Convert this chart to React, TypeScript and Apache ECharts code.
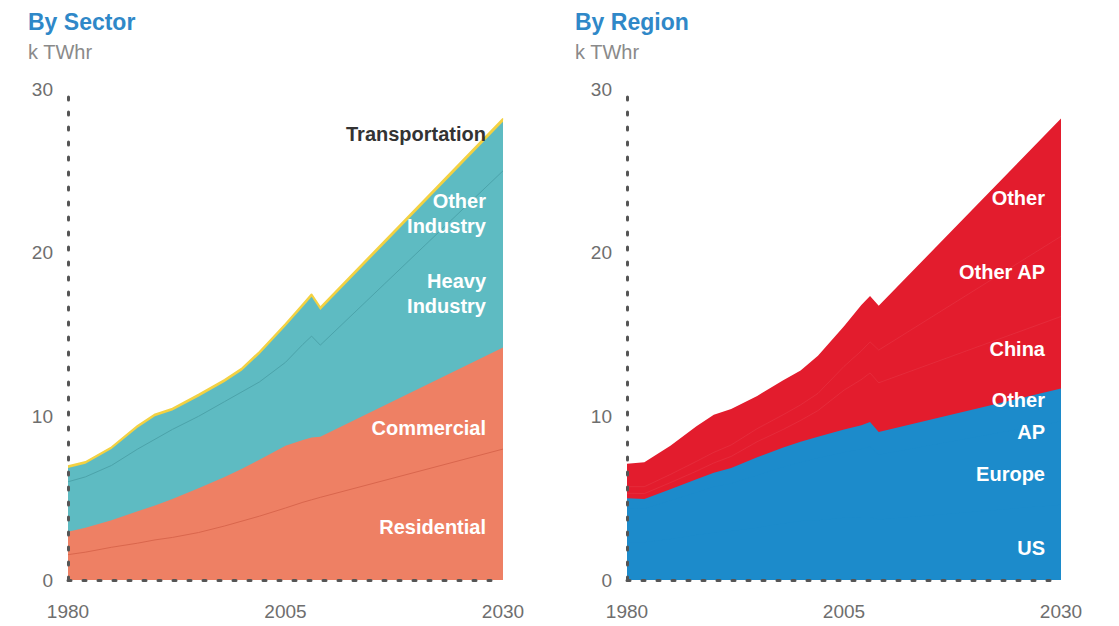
import React, { useEffect, useRef } from "react";
import * as echarts from "echarts";

// Years (after 2009 the projection is a straight line)
const years = [1980, 1982, 1985, 1988, 1990, 1992, 1995, 1998, 2000, 2002, 2005, 2007, 2008, 2009, 2030];

// By Sector (k TWhr), layer thicknesses
const residential = [1.55, 1.7, 2.0, 2.25, 2.45, 2.6, 2.9, 3.3, 3.6, 3.9, 4.4, 4.75, 4.9, 5.05, 8.0];
const commercial = [1.4, 1.5, 1.65, 1.95, 2.1, 2.35, 2.7, 3.0, 3.2, 3.45, 3.8, 3.8, 3.8, 3.7, 6.2];
const heavyIndustry = [3.05, 3.1, 3.35, 3.8, 4.05, 4.25, 4.4, 4.6, 4.7, 4.75, 5.1, 5.85, 6.2, 5.6, 10.8];
const otherIndustry = [0.85, 0.8, 1.0, 1.3, 1.4, 1.15, 1.2, 1.2, 1.3, 1.7, 2.2, 2.3, 2.4, 2.15, 3.0];
const transportation = [0.12, 0.12, 0.12, 0.13, 0.13, 0.13, 0.14, 0.14, 0.15, 0.15, 0.16, 0.17, 0.17, 0.17, 0.2];

// By Region (k TWhr), layer thicknesses
const us = [2.3, 2.3, 2.5, 2.75, 2.9, 3.0, 3.2, 3.45, 3.6, 3.65, 3.8, 3.85, 3.85, 3.7, 4.6];
const europe = [2.1, 2.05, 2.35, 2.6, 2.8, 2.9, 3.2, 3.45, 3.6, 3.8, 4.0, 4.15, 4.3, 3.95, 5.1];
const otherApOecd = [0.6, 0.6, 0.7, 0.8, 0.85, 0.95, 1.1, 1.2, 1.25, 1.3, 1.4, 1.45, 1.5, 1.4, 2.0];
const china = [0.3, 0.33, 0.4, 0.5, 0.6, 0.7, 0.95, 1.1, 1.3, 1.6, 2.4, 2.8, 3.0, 3.0, 4.4];
const otherAp = [0.4, 0.42, 0.5, 0.6, 0.65, 0.7, 0.8, 0.9, 0.95, 1.05, 1.45, 1.75, 1.9, 2.0, 4.9];
const other = [1.4, 1.5, 1.75, 2.15, 2.3, 2.2, 2.0, 2.1, 2.1, 2.3, 2.45, 2.8, 2.8, 2.7, 7.2];

const xTicks = [1980, 2005, 2030];

const FONT = '"Liberation Sans", Arial, Helvetica, sans-serif';
const ORANGE = "#ee8064";
const TEAL = "#5ebbc2";
const YELLOW = "#f3d142";
const RED = "#e31c2d";
const BLUE = "#1c8bcb";
const FAINT = "rgba(255,255,255,0.07)";

type Layer = { name: string; values: number[]; fill: string; line: string; lineWidth: number };

// Stack the layers (bottom first) and draw them from the top down, each filled to zero,
// so every lower layer covers the one above it.
function stackedSeries(layers: Layer[], idx: number) {
  const running = years.map(() => 0);
  const tops = layers.map((l) => l.values.map((v, i) => (running[i] += v)));
  return layers
    .map((l, k) => ({
      type: "line",
      name: l.name,
      xAxisIndex: idx,
      yAxisIndex: idx,
      symbol: "none",
      silent: true,
      data: years.map((y, i) => [y, +tops[k][i].toFixed(3)]),
      areaStyle: { color: l.fill, opacity: 1 },
      lineStyle: { color: l.line, width: l.lineWidth, opacity: l.lineWidth > 0 ? 1 : 0 },
      emphasis: { disabled: true },
    }))
    .reverse();
}

const dotted = { color: "#555", width: 3, type: [3, 12] };

function xAxis(idx: number) {
  return {
    type: "value",
    gridIndex: idx,
    min: 1980,
    max: 2030,
    z: 10,
    splitLine: { show: false },
    axisTick: { show: false },
    axisLine: { show: true, onZero: false, lineStyle: dotted },
    axisLabel: {
      customValues: xTicks,
      formatter: (v: number) => String(v),
      fontSize: 19,
      color: "#6e6e6e",
      margin: 22,
      fontFamily: FONT,
    },
  };
}

function yAxis(idx: number) {
  return {
    type: "value",
    gridIndex: idx,
    min: 0,
    max: 30,
    interval: 10,
    z: 10,
    splitLine: { show: false },
    axisTick: { show: false },
    axisLine: { show: true, lineStyle: dotted },
    axisLabel: { fontSize: 19, color: "#6e6e6e", margin: 15, fontFamily: FONT },
  };
}

function label(text: string, x: number, y: number, fill = "#ffffff") {
  return {
    type: "text",
    x,
    y,
    z: 100,
    silent: true,
    style: {
      text,
      fill,
      font: `bold 20px ${FONT}`,
      textAlign: "right",
      textVerticalAlign: "middle",
    },
  };
}

function title(text: string, x: number) {
  return [
    {
      type: "text",
      x,
      y: 22,
      style: {
        text,
        fill: "#2f88c8",
        font: `bold 23px ${FONT}`,
        textAlign: "left",
        textVerticalAlign: "middle",
      },
    },
    {
      type: "text",
      x,
      y: 52,
      style: {
        text: "k TWhr",
        fill: "#8a8a8a",
        font: `20px ${FONT}`,
        textAlign: "left",
        textVerticalAlign: "middle",
      },
    },
  ];
}

export default function App() {
  const ref = useRef<HTMLDivElement>(null);
  useEffect(() => {
    document.body.style.margin = "0";
    if (!ref.current) return;
    const chart = echarts.init(ref.current, null, { renderer: "svg" });
    const sector: Layer[] = [
      { name: "Residential", values: residential, fill: ORANGE, line: "#d9664d", lineWidth: 1 },
      { name: "Commercial", values: commercial, fill: ORANGE, line: ORANGE, lineWidth: 0 },
      { name: "Heavy Industry", values: heavyIndustry, fill: TEAL, line: "#4ca3aa", lineWidth: 1 },
      { name: "Other Industry", values: otherIndustry, fill: TEAL, line: TEAL, lineWidth: 0 },
      { name: "Transportation", values: transportation, fill: YELLOW, line: YELLOW, lineWidth: 1.5 },
    ];
    const region: Layer[] = [
      { name: "US", values: us, fill: BLUE, line: BLUE, lineWidth: 0 },
      { name: "Europe", values: europe, fill: BLUE, line: BLUE, lineWidth: 0 },
      { name: "Other AP (OECD)", values: otherApOecd, fill: BLUE, line: BLUE, lineWidth: 0 },
      { name: "China", values: china, fill: RED, line: FAINT, lineWidth: 1 },
      { name: "Other AP", values: otherAp, fill: RED, line: FAINT, lineWidth: 1 },
      { name: "Other", values: other, fill: RED, line: RED, lineWidth: 0 },
    ];
    chart.setOption({
      animation: false,
      backgroundColor: "#ffffff",
      grid: [
        { left: 68, top: 89, width: 435, height: 491 },
        { left: 627, top: 89, width: 434, height: 491 },
      ],
      xAxis: [xAxis(0), xAxis(1)],
      yAxis: [yAxis(0), yAxis(1)],
      series: [...stackedSeries(sector, 0), ...stackedSeries(region, 1)],
      graphic: [
        ...title("By Sector", 28),
        ...title("By Region", 575),
        label("Transportation", 486, 134, "#333333"),
        label("Other", 486, 201),
        label("Industry", 486, 226),
        label("Heavy", 486, 281),
        label("Industry", 486, 306),
        label("Commercial", 486, 428),
        label("Residential", 486, 527),
        label("Other", 1045, 198),
        label("Other AP", 1045, 272),
        label("China", 1045, 349),
        label("Other", 1045, 400),
        label("AP", 1045, 432),
        label("Europe", 1045, 474),
        label("US", 1045, 548),
      ],
    });
    return () => chart.dispose();
  }, []);
  return <div ref={ref} style={{ width: 1119, height: 626 }} />;
}
